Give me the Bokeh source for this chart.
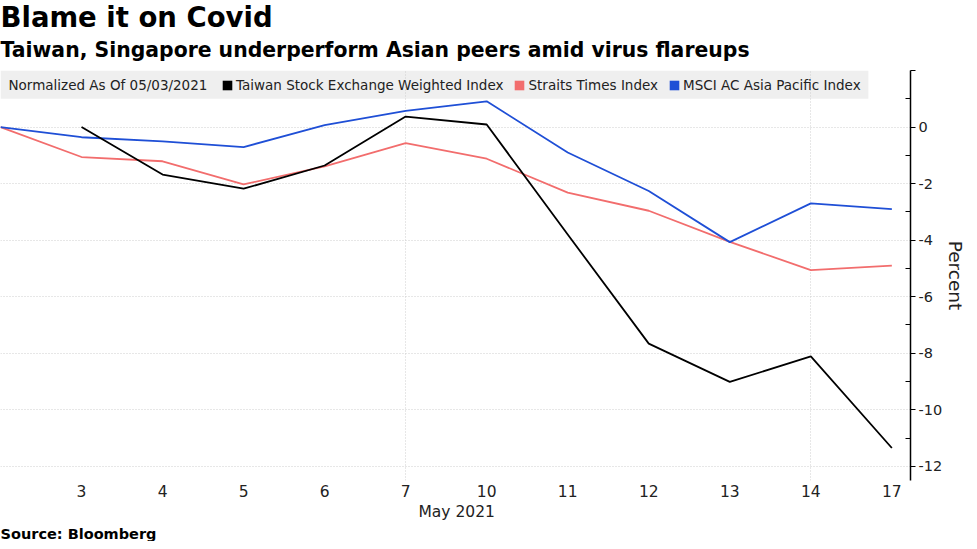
from bokeh.plotting import figure
from bokeh.models import (Range1d, FixedTicker, LinearAxis, Grid, Label, Title,
                          BoxAnnotation, Legend, LegendItem)
from bokeh.embed import file_html
from bokeh.resources import INLINE

# ---- data ----
day_labels = ["30", "3", "4", "5", "6", "7", "10", "11", "12", "13", "14", "17"]
idx = list(range(len(day_labels)))
taiwan = [None, 0.0, -1.68, -2.18, -1.36, 0.37, 0.09, -3.8, -7.66, -9.01, -8.11, -11.35]
straits = [0.0, -1.06, -1.21, -2.03, -1.39, -0.57, -1.12, -2.32, -2.96, -4.06, -5.06, -4.90]
msci = [0.0, -0.36, -0.51, -0.71, 0.07, 0.57, 0.91, -0.90, -2.26, -4.07, -2.70, -2.90]
series_names = ["Taiwan Stock Exchange Weighted Index", "Straits Times Index",
                "MSCI AC Asia Pacific Index"]
colors = ["#000000", "#f26d6d", "#1f4fd6"]
y_ticks = [2, 0, -2, -4, -6, -8, -10, -12]
y_minor = [1, -1, -3, -5, -7, -9, -11]
week_ticks = [0, 5, 10]
month_label = "May 2021"
title_text = "Blame it on Covid"
subtitle_text = "Taiwan, Singapore underperform Asian peers amid virus flareups"
source_text = "Source: Bloomberg"
note_text = "Normalized As Of 05/03/2021"

FONT = "DejaVu Sans"
TXT = "#222222"
Y0, Y1 = -12.5, 2

p = figure(width=969, height=541, output_backend="svg", toolbar_location=None,
           x_range=Range1d(0, 11.23), y_range=Range1d(Y0, Y1),
           y_axis_location="right", min_border_left=0, min_border_right=57,
           min_border_top=70, min_border_bottom=0, outline_line_color=None)

# grids
p.xgrid.visible = False
p.ygrid.visible = False
p.add_layout(Grid(dimension=1, ticker=FixedTicker(ticks=y_ticks[1:]),
                  grid_line_color="#cfcfcf", grid_line_dash="1 2"))
p.add_layout(Grid(dimension=0, ticker=FixedTicker(ticks=week_ticks),
                  grid_line_color="#cfcfcf", grid_line_dash="1 2"))

# legend band
band = BoxAnnotation(left=0, right=10.71, top=Y1, bottom=1.0, fill_color="#efefef",
                     fill_alpha=1, line_color=None, level="image")
p.add_layout(band)

# lines
def clean(xs, ys):
    pts = [(x, y) for x, y in zip(xs, ys) if y is not None]
    return [a for a, _ in pts], [b for _, b in pts]

for ys, c in zip([straits, msci, taiwan], [colors[1], colors[2], colors[0]]):
    xs2, ys2 = clean(idx, ys)
    p.line(xs2, ys2, line_color=c, line_width=1.8)

# legend (square swatches)
nan = float("nan")
items = []
for name, c in zip(series_names, colors):
    r = p.quad(left=[nan], right=[nan], top=[nan], bottom=[nan],
               fill_color=c, line_color=None)
    items.append(LegendItem(label=name, renderers=[r]))
leg = Legend(items=items, orientation="horizontal", location=(221, 387),
             glyph_width=12, glyph_height=12, label_height=14, label_standoff=3,
             spacing=10, padding=0, margin=0, background_fill_alpha=0,
             border_line_color=None, label_text_font=FONT,
             label_text_font_size="13.5px", label_text_color=TXT)
p.add_layout(leg)

p.add_layout(Label(x=0, y=1.5, x_offset=8, text=note_text,
                   text_font=FONT, text_font_size="13.5px", text_color=TXT,
                   text_baseline="middle"))

# y axis (right)
ya = p.yaxis[0]
ya.ticker = FixedTicker(ticks=y_ticks, minor_ticks=y_minor)
ya.major_label_overrides = {v: ("" if v == 2 else str(v)) for v in y_ticks}
ya.axis_line_color = "black"
ya.axis_line_width = 1.5
ya.major_tick_in = 0
ya.major_tick_out = 5
ya.minor_tick_in = 5
ya.minor_tick_out = 0
ya.major_tick_line_color = "black"
ya.minor_tick_line_color = "black"
ya.major_label_text_font = FONT
ya.major_label_text_font_size = "14.5px"
ya.major_label_text_color = TXT
ya.major_label_standoff = 3
ya.axis_label = "Percent"
ya.axis_label_text_font = FONT
ya.axis_label_text_font_size = "18.5px"
ya.axis_label_text_font_style = "normal"
ya.axis_label_text_color = TXT
ya.axis_label_standoff = 0

# x axis
xa = p.xaxis[0]
xa.ticker = FixedTicker(ticks=idx[1:])
xa.major_label_overrides = {i: day_labels[i] for i in idx}
xa.axis_line_color = None
xa.major_tick_line_color = None
xa.minor_tick_line_color = None
xa.major_tick_out = 0
xa.major_tick_in = 0
xa.major_label_text_font = FONT
xa.major_label_text_font_size = "15.5px"
xa.major_label_text_color = TXT
xa.major_label_standoff = 4

month_pos = 5.63
xa2 = LinearAxis(ticker=FixedTicker(ticks=[month_pos]),
                 major_label_overrides={month_pos: month_label},
                 axis_line_color=None, major_tick_line_color=None,
                 major_tick_out=0, major_tick_in=0,
                 minor_tick_line_color=None, major_label_text_font=FONT,
                 major_label_text_font_size="15.5px", major_label_text_color=TXT,
                 major_label_standoff=3)
p.add_layout(xa2, "below")

# titles (panels above) and source (panel below)
sub = Title(text=subtitle_text, text_font=FONT, text_font_size="20.4px",
            text_font_style="bold", text_color="black", align="left",
            standoff=17, offset=0)
main = Title(text=title_text, text_font=FONT, text_font_size="27.5px",
             text_font_style="bold", text_color="black", align="left",
             standoff=-10, offset=0)
p.add_layout(sub, "above")
p.add_layout(main, "above")

src = Title(text=source_text, text_font=FONT, text_font_size="14.5px",
            text_font_style="bold", text_color="black", align="left",
            standoff=0, offset=0)
p.add_layout(src, "below")

open("out.html", "w").write(file_html(p, INLINE))
